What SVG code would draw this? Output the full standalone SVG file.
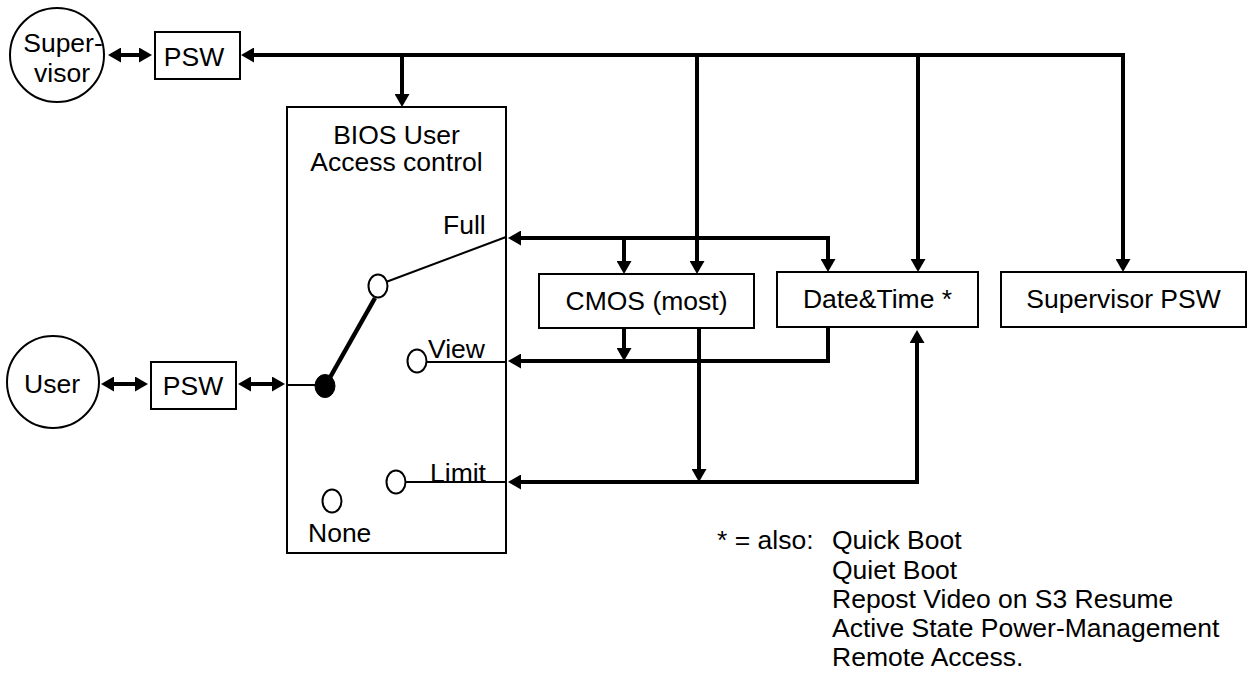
<svg xmlns="http://www.w3.org/2000/svg" width="1252" height="679" viewBox="0 0 1252 679">
<style>
  .t{font-family:"Liberation Sans",Arial,sans-serif;font-size:26.5px;fill:#000}
  .c{text-anchor:middle}
  .box{fill:#fff;stroke:#000;stroke-width:2}
  .w{fill:none;stroke:#000;stroke-width:4}
  .thin{fill:none;stroke:#000;stroke-width:2}
  .sw{fill:#fff;stroke:#000;stroke-width:2}
</style>
<defs>
  <marker id="ah" markerUnits="userSpaceOnUse" viewBox="0 0 13 15" refX="3" refY="7.5" markerWidth="13" markerHeight="15" orient="auto-start-reverse">
    <path d="M0,0 L13,7.5 L0,15 z" fill="#000"/>
  </marker>
</defs>
<rect width="1252" height="679" fill="#fff"/>

<g id="connectors">
  <path class="w" d="M251,55 H1123 V262" marker-start="url(#ah)" marker-end="url(#ah)"/>
  <path class="w" d="M402,55 V97" marker-end="url(#ah)"/>
  <path class="w" d="M697,55 V264" marker-end="url(#ah)"/>
  <path class="w" d="M918,55 V262" marker-end="url(#ah)"/>
  <path class="w" d="M518,238 H828 V262" marker-start="url(#ah)" marker-end="url(#ah)"/>
  <path class="w" d="M624,238 V264" marker-end="url(#ah)"/>
  <path class="w" d="M518,361 H828 V327" marker-start="url(#ah)"/>
  <path class="w" d="M624,328 V351" marker-end="url(#ah)"/>
  <path class="w" d="M699,328 V472" marker-end="url(#ah)"/>
  <path class="w" d="M518,482 H917 V340" marker-start="url(#ah)" marker-end="url(#ah)"/>
  <path class="w" d="M118,55 H142" marker-start="url(#ah)" marker-end="url(#ah)"/>
  <path class="w" d="M111,384 H138" marker-start="url(#ah)" marker-end="url(#ah)"/>
  <path class="w" d="M248,384 H275" marker-start="url(#ah)" marker-end="url(#ah)"/>
</g>

<g id="supervisor">
  <circle cx="57" cy="55" r="47" class="sw"/>
  <text class="t c" x="63" y="52">Super-</text>
  <text class="t c" x="62" y="82">visor</text>
</g>
<g id="supervisor-psw-in">
  <rect x="155" y="32" width="85" height="47" class="box"/>
  <text class="t c" x="194" y="66">PSW</text>
</g>
<g id="user">
  <circle cx="53" cy="382" r="46" class="sw"/>
  <text class="t c" x="52" y="393">User</text>
</g>
<g id="user-psw">
  <rect x="151" y="362" width="85" height="47" class="box"/>
  <text class="t c" x="193" y="395">PSW</text>
</g>

<g id="bios">
  <rect x="287" y="107" width="219" height="446" class="box"/>
  <text class="t c" x="396.5" y="144">BIOS User</text>
  <text class="t c" x="396.5" y="171">Access control</text>
  <text class="t" x="443" y="234">Full</text>
  <text class="t" x="428" y="358">View</text>
  <text class="t" x="430" y="482">Limit</text>
  <text class="t" x="308" y="542">None</text>
  <line class="thin" x1="287" y1="385" x2="320" y2="385"/>
  <line class="thin" x1="386" y1="282" x2="506" y2="237"/>
  <line x1="328" y1="381" x2="375" y2="298" stroke="#000" stroke-width="4.5"/>
  <line class="thin" x1="426" y1="362" x2="506" y2="362"/>
  <line class="thin" x1="405" y1="482" x2="506" y2="482"/>
  <ellipse cx="378" cy="286" rx="9.5" ry="11.5" class="sw"/>
  <ellipse cx="325" cy="386" rx="10" ry="11.5" fill="#000" stroke="#000" stroke-width="1"/>
  <ellipse cx="417" cy="361" rx="9.5" ry="11.5" class="sw"/>
  <ellipse cx="396" cy="482" rx="9.5" ry="11.5" class="sw"/>
  <ellipse cx="332" cy="501" rx="9.5" ry="11.5" class="sw"/>
</g>

<g id="cmos">
  <rect x="539" y="274" width="215" height="54" class="box"/>
  <text class="t c" x="646.5" y="310">CMOS (most)</text>
</g>
<g id="datetime">
  <rect x="777" y="272" width="201" height="55" class="box"/>
  <text class="t c" x="877.5" y="308">Date&amp;Time *</text>
</g>
<g id="supervisor-psw">
  <rect x="1001" y="272" width="245" height="55" class="box"/>
  <text class="t c" x="1123.5" y="308">Supervisor PSW</text>
</g>

<g id="note">
  <text class="t" x="717" y="549">* = also:</text>
  <text class="t" x="832" y="549">Quick Boot</text>
  <text class="t" x="832" y="579">Quiet Boot</text>
  <text class="t" x="832" y="608">Repost Video on S3 Resume</text>
  <text class="t" x="832" y="637">Active State Power-Management</text>
  <text class="t" x="832" y="666">Remote Access.</text>
</g>
</svg>
